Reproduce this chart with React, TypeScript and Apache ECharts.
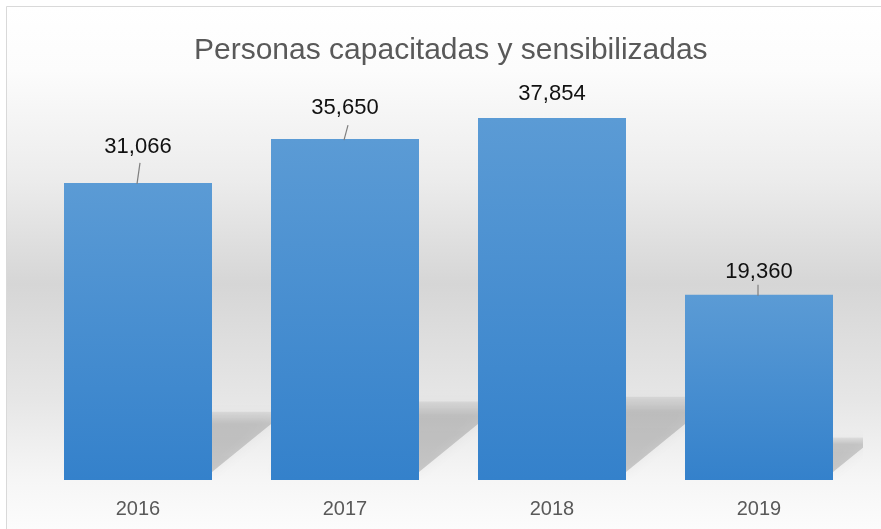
import React, { useEffect, useRef } from "react";
import * as echarts from "echarts";

const categories = ["2016", "2017", "2018", "2019"];
const values = [31066, 35650, 37854, 19360];
const titleText = "Personas capacitadas y sensibilizadas";

// label layout tweaks (styles, not data)
const labelGap = [26, 22, 15, 13];
const leaderLen = [21, 15, 0, 11];
const leaderDx = [3, 4, 0, 0];

const FONT = "'Liberation Sans', Arial, sans-serif";

function fmt(n: number): string {
  return String(n).replace(/\B(?=(\d{3})+(?!\d))/g, ",");
}

export default function App() {
  const ref = useRef<HTMLDivElement>(null);
  useEffect(() => {
    if (!ref.current) return;
    const chart = echarts.init(ref.current, undefined, { renderer: "svg" });
    const option: any = {
      animation: false,
      graphic: [
        {
          type: "rect",
          z: -100,
          silent: true,
          shape: { x: 6.5, y: 6.5, width: 920, height: 600 },
          style: {
            fill: {
              type: "linear",
              x: 0,
              y: 7,
              x2: 0,
              y2: 529,
              global: true,
              colorStops: [
                { offset: 0, color: "#ffffff" },
                { offset: 0.12, color: "#fcfcfc" },
                { offset: 0.33, color: "#ececec" },
                { offset: 0.53, color: "#d6d6d6" },
                { offset: 0.75, color: "#e6e6e6" },
                { offset: 0.906, color: "#f6f6f6" },
                { offset: 1, color: "#fcfcfc" },
              ],
            },
            stroke: "#d9d9d9",
            lineWidth: 1,
          },
        },
      ],
      title: {
        text: titleText,
        left: 194,
        top: 33,
        padding: 0,
        textStyle: {
          fontFamily: FONT,
          fontSize: 30,
          fontWeight: "normal",
          color: "#595959",
        },
      },
      grid: { left: 34.5, right: 18.5, top: 97.5, bottom: 49 },
      xAxis: {
        type: "category",
        data: categories,
        axisLine: { show: false },
        axisTick: { show: false },
        axisLabel: {
          margin: 18,
          fontFamily: FONT,
          fontSize: 20,
          color: "#595959",
        },
      },
      yAxis: {
        type: "value",
        min: 0,
        max: 40000,
        show: false,
        splitLine: { show: false },
      },
      series: [
        {
          type: "custom",
          z: 1,
          clip: true,
          silent: true,
          data: values.map((v, i) => [i, v]),
          renderItem: (params: any, api: any) => {
            const i = api.value(0);
            const v = api.value(1);
            const top = api.coord([i, v]);
            const base = api.coord([i, 0])[1];
            const band = api.size([1, 0])[0];
            const half = 74 * (band / 207);
            const h = 0.23 * (base - top[1]);
            const k = 1.23;
            const xl = top[0] - half;
            const xr = top[0] + half;
            return {
              type: "polygon",
              shape: {
                points: [
                  [xl, base - 8],
                  [xr, base - 8],
                  [xr + k * (h - 8), base - h],
                  [xl + k * (h - 8), base - h],
                ],
              },
              style: {
                fill: {
                  type: "linear",
                  x: 0,
                  y: 0,
                  x2: 0,
                  y2: 1,
                  colorStops: [
                    { offset: 0, color: "rgba(0,0,0,0.06)" },
                    { offset: 0.2, color: "rgba(0,0,0,0.16)" },
                    { offset: 1, color: "rgba(0,0,0,0.17)" },
                  ],
                },
                shadowBlur: 12,
                shadowColor: "rgba(0,0,0,0.22)",
              },
            };
          },
        },
        {
          type: "bar",
          z: 2,
          barWidth: 148,
          data: values.map((v, i) => ({
            value: v,
            label: { distance: labelGap[i] },
          })),
          itemStyle: {
            color: {
              type: "linear",
              x: 0,
              y: 0,
              x2: 0,
              y2: 1,
              colorStops: [
                { offset: 0, color: "#5b9bd5" },
                { offset: 1, color: "#3481cb" },
              ],
            },
          },
          label: {
            show: true,
            position: "top",
            fontFamily: FONT,
            fontSize: 22,
            color: "#111111",
            formatter: (p: any) => fmt(p.value),
          },
        },
        {
          type: "custom",
          z: 3,
          silent: true,
          data: values.map((v, i) => [i, v]),
          renderItem: (params: any, api: any) => {
            const i = params.dataIndex;
            const p = api.coord([api.value(0), api.value(1)]);
            const len = leaderLen[i];
            if (!len) return { type: "group", children: [] };
            return {
              type: "line",
              shape: {
                x1: p[0] - 1,
                y1: p[1] + 1,
                x2: p[0] - 1 + leaderDx[i],
                y2: p[1] + 1 - len,
              },
              style: { stroke: "#7f7f7f", lineWidth: 1.2 },
            };
          },
        },
      ],
    };
    chart.setOption(option);
    return () => chart.dispose();
  }, []);
  return (
    <div
      ref={ref}
      style={{ position: "fixed", left: 0, top: 0, width: 881, height: 529 }}
    />
  );
}
